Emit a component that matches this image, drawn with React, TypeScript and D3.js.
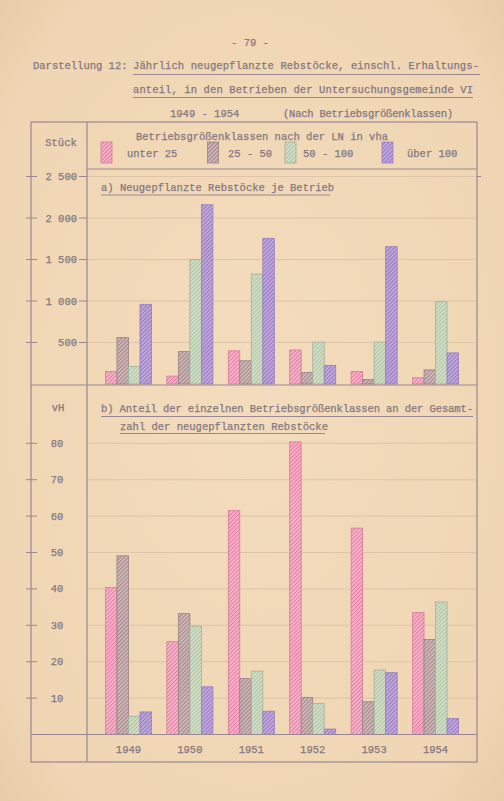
import React from 'react';
import * as d3 from 'd3';

// Jahre und Größenklassen
const years = ['1949', '1950', '1951', '1952', '1953', '1954'];
const classes = ['unter 25', '25 - 50', '50 - 100', 'über 100'];

// a) neugepflanzte Rebstöcke je Betrieb (Stück)
const stueckUnter25 = [150, 95, 400, 410, 150, 75];
const stueck25bis50 = [560, 390, 280, 140, 55, 170];
const stueck50bis100 = [210, 1500, 1325, 505, 505, 990];
const stueckUeber100 = [960, 2160, 1755, 225, 1655, 375];

// b) Anteil an der Gesamtzahl (vH)
const anteilUnter25 = [40.4, 25.5, 61.5, 80.4, 56.7, 33.5];
const anteil25bis50 = [49.1, 33.2, 15.4, 10.2, 9.0, 26.1];
const anteil50bis100 = [5.0, 29.8, 17.4, 8.5, 17.7, 36.4];
const anteilUeber100 = [6.2, 13.1, 6.4, 1.5, 17.0, 4.4];

const stueckTicks = [500, 1000, 1500, 2000, 2500];
const anteilTicks = [10, 20, 30, 40, 50, 60, 70, 80];

const W = 504;
const H = 801;
const font = '"Liberation Mono", "DejaVu Sans Mono", monospace';
const ink = '#85777f';
const line = '#9a8792';

const styles = [
  { fill: '#f6b8ca', hatch: '#e66c9c', stroke: '#d87a9c' },
  { fill: '#d0b8b6', hatch: '#977f86', stroke: '#988088' },
  { fill: '#d3dfc4', hatch: '#a9bea3', stroke: '#a2b09c' },
  { fill: '#c2aadc', hatch: '#8c6fbc', stroke: '#967fba' },
];

const fmtStueck = (v: number) => (v >= 1000 ? `${Math.floor(v / 1000)} ${String(v % 1000).padStart(3, '0')}` : String(v));

const App = () => {
  const left = 87;
  const right = 477;

  const x = d3.scaleBand<string>().domain(years).range([left, right]).paddingInner(0.25).paddingOuter(0.3);
  const xi = d3.scaleBand<string>().domain(classes).range([0, x.bandwidth()]);

  const yTop = d3.scaleLinear().domain([0, 2500]).range([384, 176.5]);
  const yBot = d3.scaleLinear().domain([0, 80]).range([734.5, 443.3]);

  const stueck = [stueckUnter25, stueck25bis50, stueck50bis100, stueckUeber100];
  const anteil = [anteilUnter25, anteil25bis50, anteil50bis100, anteilUeber100];

  const bars = (series: number[][], y: d3.ScaleLinear<number, number>) =>
    series.map((vals, ci) =>
      vals.map((v, yi) => (
        <rect
          key={`${ci}-${yi}`}
          x={(x(years[yi]) as number) + (xi(classes[ci]) as number)}
          y={y(v)}
          width={xi.bandwidth()}
          height={y(0) - y(v)}
          fill={`url(#hatch${ci})`}
          stroke={styles[ci].stroke}
          strokeWidth={0.8}
        />
      ))
    );

  const legendX = [101, 207.5, 285, 382];
  const legendTextX = [127, 228, 303, 407];

  return (
    <div style={{ position: 'absolute', left: 0, top: 0 }}>
      <svg width={W} height={H} style={{ display: 'block' }}>
        <defs>
          {styles.map((s, i) => (
            <pattern key={i} id={`hatch${i}`} width={2.8} height={2.8} patternUnits="userSpaceOnUse" patternTransform="rotate(45)">
              <rect width={2.8} height={2.8} fill={s.fill} />
              <line x1={0.5} y1={0} x2={0.5} y2={2.8} stroke={s.hatch} strokeWidth={0.9} />
            </pattern>
          ))}
          <radialGradient id="paper" cx="50%" cy="50%" r="75%">
            <stop offset="0%" stopColor="#f3dcbd" />
            <stop offset="80%" stopColor="#efd5b3" />
            <stop offset="100%" stopColor="#e6c9a6" />
          </radialGradient>
        </defs>
        <rect width={W} height={H} fill="url(#paper)" />

        <g fontFamily={font} fill={ink} stroke={ink} strokeWidth={0.25} fontSize={10.5}>
          <text x={250} y={46} textAnchor="middle">- 79 -</text>
          <text x={33} y={69}>Darstellung 12:</text>
          <text x={133} y={69} textLength={346}>Jährlich neugepflanzte Rebstöcke, einschl. Erhaltungs-</text>
          <text x={133} y={92.5} textLength={340}>anteil, in den Betrieben der Untersuchungsgemeinde  VI</text>
          <text x={170} y={117}>1949 - 1954</text>
          <text x={283} y={117} textLength={170}>(Nach Betriebsgrößenklassen)</text>
        </g>
        <g stroke={line} strokeWidth={1}>
          <line x1={133} x2={480} y1={74.5} y2={74.5} />
          <line x1={133} x2={473} y1={97.5} y2={97.5} />
        </g>

        {/* gitter */}
        <g stroke="#d6bca4" strokeWidth={0.7}>
          {stueckTicks.map((t) => (
            <line key={t} x1={left} x2={right} y1={yTop(t)} y2={yTop(t)} />
          ))}
          {anteilTicks.map((t) => (
            <line key={t} x1={left} x2={right} y1={yBot(t)} y2={yBot(t)} />
          ))}
        </g>

        {bars(stueck, yTop)}
        {bars(anteil, yBot)}

        {/* rahmen */}
        <g stroke={line} strokeWidth={1.2} fill="none">
          <rect x={31} y={122} width={right - 31} height={640} />
          <line x1={left} x2={left} y1={122} y2={762} />
          <line x1={left} x2={right} y1={169} y2={169} />
          <line x1={31} x2={right} y1={385} y2={385} />
          <line x1={31} x2={right} y1={734.5} y2={734.5} />
          <line x1={101} x2={330} y1={195} y2={195} />
          <line x1={101} x2={473} y1={416.5} y2={416.5} />
          <line x1={120} x2={325} y1={433.5} y2={433.5} />
        </g>

        <g stroke={line} strokeWidth={1}>
          {stueckTicks.map((t) => (
            <g key={t}>
              <line x1={26} x2={37} y1={yTop(t)} y2={yTop(t)} />
              <line x1={79} x2={87} y1={yTop(t)} y2={yTop(t)} />
            </g>
          ))}
          {anteilTicks.map((t) => (
            <line key={t} x1={26} x2={37} y1={yBot(t)} y2={yBot(t)} />
          ))}
          <line x1={right} x2={right + 4} y1={yTop(2500)} y2={yTop(2500)} />
        </g>

        <g fontFamily={font} fill={ink} stroke={ink} strokeWidth={0.25} fontSize={10.5}>
          <text x={61} y={146} textAnchor="middle">Stück</text>
          {stueckTicks.map((t) => (
            <text key={t} x={77} y={yTop(t) + 3.5} textAnchor="end">{fmtStueck(t)}</text>
          ))}
          <text x={58} y={411} textAnchor="middle">vH</text>
          {anteilTicks.map((t) => (
            <text key={t} x={57} y={yBot(t) + 3.5} textAnchor="middle">{t}</text>
          ))}
          {years.map((yr) => (
            <text key={yr} x={(x(yr) as number) + x.bandwidth() / 2} y={753} textAnchor="middle">{yr}</text>
          ))}

          <text x={262} y={140} textAnchor="middle">Betriebsgrößenklassen nach der LN in vha</text>
          {classes.map((c, i) => (
            <text key={c} x={legendTextX[i]} y={157}>{c}</text>
          ))}
          <text x={101} y={191}>a) Neugepflanzte Rebstöcke je Betrieb</text>
          <text x={101} y={412} textLength={372}>b) Anteil der einzelnen Betriebsgrößenklassen an der Gesamt-</text>
          <text x={120} y={430}>zahl der neugepflanzten Rebstöcke</text>
        </g>

        {classes.map((c, i) => (
          <rect key={c} x={legendX[i]} y={142} width={11} height={21} fill={`url(#hatch${i})`} stroke={styles[i].stroke} strokeWidth={0.8} />
        ))}
      </svg>
    </div>
  );
};

export default App;
